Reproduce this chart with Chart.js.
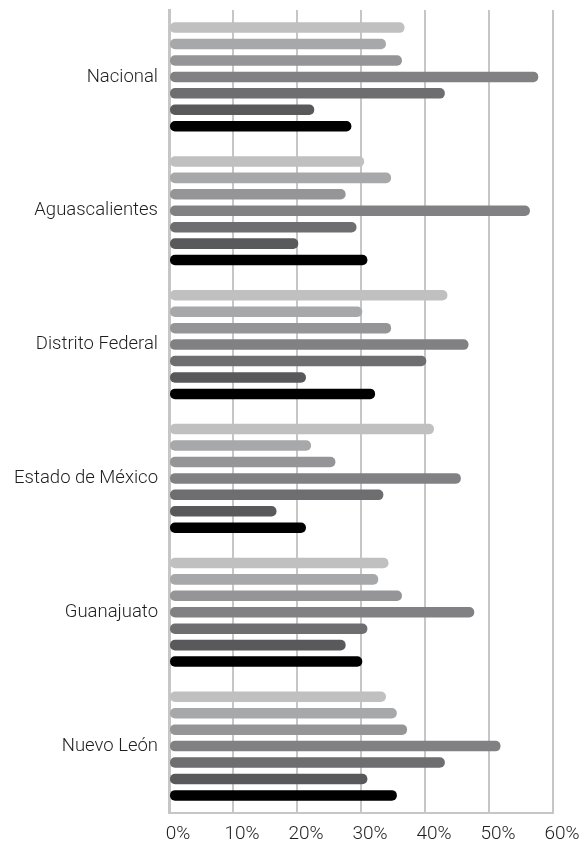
<!DOCTYPE html>
<html>
<head>
<meta charset="utf-8">
<script src="https://cdn.jsdelivr.net/npm/chart.js@4.4.1/dist/chart.umd.min.js"></script>
<style>
  html, body { margin: 0; padding: 0; background: #fff; }
  #wrap { width: 586px; height: 842px; }
</style>
</head>
<body>
<div id="wrap"><canvas id="chart"></canvas></div>
<script>
// categories (states) and the 7 series, values in percent
const categories = ["Nacional", "Aguascalientes", "Distrito Federal", "Estado de México", "Guanajuato", "Nuevo León"];
const serie1 = [36.8, 30.5, 43.5, 41.4, 34.3, 33.9];
const serie2 = [33.9, 34.7, 30.2, 22.2, 32.7, 35.6];
const serie3 = [36.4, 27.6, 34.7, 26.0, 36.4, 37.2];
const serie4 = [57.7, 56.4, 46.8, 45.6, 47.7, 51.8];
const serie5 = [43.1, 29.3, 40.2, 33.5, 31.0, 43.1];
const serie6 = [22.7, 20.2, 21.4, 16.8, 27.6, 31.0];
const serie7 = [28.5, 31.0, 32.2, 21.4, 30.2, 35.6];
const xTicks = [0, 10, 20, 30, 40, 50, 60];

const series = [serie1, serie2, serie3, serie4, serie5, serie6, serie7];
const shades = ["#bfc0bf", "#a7a8aa", "#959597", "#818184", "#6e6e70", "#59595b", "#000000"];
const gridColor = "#c6c6c6";
const fontFamily = "'Helvetica Neue', Roboto, 'Liberation Sans', sans-serif";

new Chart(document.getElementById("chart"), {
    type: "bar",
    data: {
        labels: categories,
        datasets: series.map((s, i) => ({
            label: "Serie " + (i + 1),
            data: s,
            backgroundColor: shades[i],
            borderRadius: 5,
            borderSkipped: false,
            categoryPercentage: 0.86,
            barPercentage: 0.64
        }))
    },
    options: {
        indexAxis: "y",
        responsive: true,
        maintainAspectRatio: false,
        animation: false,
        layout: { padding: { top: 10, right: 33, bottom: 0, left: 0 } },
        plugins: {
            legend: { display: false },
            tooltip: { enabled: false }
        },
        scales: {
            x: {
                min: 0,
                max: 60,
                afterBuildTicks: scale => { scale.ticks = xTicks.map(v => ({ value: v })); },
                afterFit: scale => {
                    scale.height = 29;
                    scale.paddingLeft = 0;
                    scale.paddingRight = 0;
                },
                grid: { color: gridColor, lineWidth: 2, drawTicks: false },
                border: { color: gridColor, width: 2 },
                ticks: {
                    padding: 10,
                    labelOffset: 9,
                    color: "#1e1e1e",
                    font: { family: fontFamily, size: 19, weight: 300 },
                    callback: v => v + "%"
                }
            },
            y: {
                afterFit: scale => {
                    scale.width = 169;
                    scale.paddingTop = 0;
                    scale.paddingBottom = 0;
                },
                grid: { display: false, drawTicks: false },
                border: { color: gridColor, width: 3 },
                ticks: {
                    padding: 11,
                    color: "#1e1e1e",
                    font: { family: fontFamily, size: 18.5, weight: 300 }
                }
            }
        }
    }
});
</script>
</body>
</html>
